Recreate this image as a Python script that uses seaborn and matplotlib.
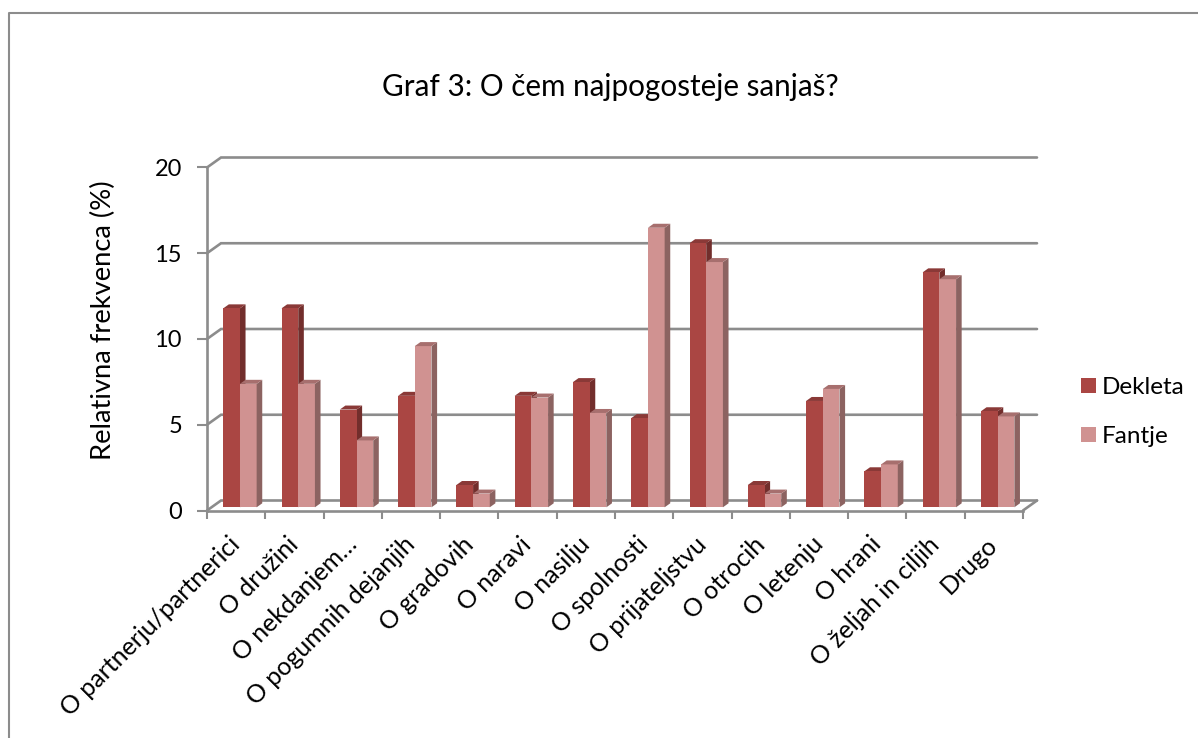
import seaborn as sns
import matplotlib.pyplot as plt
import pandas as pd
from matplotlib.lines import Line2D
from matplotlib.patches import Polygon

categories = ['O partnerju/partnerici', 'O družini', 'O nekdanjem…', 'O pogumnih dejanjih',
              'O gradovih', 'O naravi', 'O nasilju', 'O spolnosti', 'O prijateljstvu',
              'O otrocih', 'O letenju', 'O hrani', 'O željah in ciljih', 'Drugo']
dekleta = [11.6, 11.6, 5.7, 6.5, 1.3, 6.5, 7.3, 5.2, 15.4, 1.3, 6.2, 2.1, 13.7, 5.6]
fantje = [7.2, 7.2, 3.9, 9.4, 0.8, 6.4, 5.5, 16.3, 14.3, 0.8, 6.9, 2.5, 13.3, 5.3]
y_ticks = [0, 5, 10, 15, 20]

W, H = 1198, 738
GREY = '#8C8C8C'

sns.set_style("white")
plt.rcParams['font.family'] = ['Lato', 'DejaVu Sans']
plt.rcParams['text.color'] = 'black'
plt.rcParams['ytick.labelcolor'] = 'black'
plt.rcParams['axes.labelcolor'] = 'black'

df = pd.DataFrame({'cat': categories * 2,
                   'val': dekleta + fantje,
                   'spol': ['Dekleta'] * 14 + ['Fantje'] * 14})

fig = plt.figure(figsize=(W / 100, H / 100), dpi=100)
# axes box = front plane of the fake 3D chart
ax = fig.add_axes([207 / W, 1 - 510.5 / H, 816 / W, 343 / H])

sns.barplot(data=df, x='cat', y='val', hue='spol', order=categories,
            palette={'Dekleta': '#AA4643', 'Fantje': '#D09291'},
            width=0.573, gap=0, dodge=True, saturation=1, errorbar=None,
            linewidth=0, edgecolor='none', ax=ax)
ax.set_xlim(-0.5, 13.5)
ax.set_ylim(0, 20)

# pixel sizes turned into data units
px_x = 14 / 816
px_y = 20 / 343
wall_dx, wall_dy = 14 * px_x, 10 * px_y      # back wall offset
bar_dx, bar_dy = 3.8 * px_x, 3.2 * px_y      # bars stand a bit behind the front
dep_x, dep_y = 5.6 * px_x, 4 * px_y          # bar depth

# back wall grid and floor
for v in y_ticks:
    ax.plot([-0.5, -0.5 + wall_dx, 13.5 + wall_dx], [v, v + wall_dy, v + wall_dy],
            color=GREY, lw=1.9, clip_on=False, zorder=1, solid_joinstyle='miter')
ax.plot([13.5, 13.5 + wall_dx], [0, wall_dy], color=GREY, lw=1.9, clip_on=False, zorder=1)

# extrude the seaborn bars
n = len(categories)
styles = [('#722E2C', '#8A3937', 2.5, 2.6), ('#8C6361', '#A76F6E', 4, 4.1)]
for k, cont in enumerate(ax.containers):
    side_c, top_c, z, z2 = styles[k]
    for bar in cont:
        bar.set_y(bar_dy)
        bar.set_x(bar.get_x() + bar_dx)
        bar.set_zorder(3 if k == 0 else 4)
        bar.set_clip_on(False)
        x0, x1 = bar.get_x(), bar.get_x() + bar.get_width()
        y0, y1 = bar.get_y(), bar.get_y() + bar.get_height()
        ax.add_patch(Polygon([(x1, y0), (x1 + dep_x, y0 + dep_y), (x1 + dep_x, y1 + dep_y), (x1, y1)],
                             closed=True, fc=side_c, ec='none', zorder=z, clip_on=False))
        ax.add_patch(Polygon([(x0, y1), (x0 + dep_x, y1 + dep_y), (x1 + dep_x, y1 + dep_y), (x1, y1)],
                             closed=True, fc=top_c, ec='none', zorder=z2, clip_on=False))

# axes
sns.despine(ax=ax)
for s in ['left', 'bottom']:
    ax.spines[s].set_color(GREY)
    ax.spines[s].set_linewidth(1.9)
ax.set_xticks([i - 0.5 for i in range(n + 1)], minor=False)
ax.set_xticklabels([])
ax.tick_params(axis='x', length=5.5, width=1.5, color=GREY, bottom=True)
ax.set_yticks(y_ticks)
ax.tick_params(axis='y', length=7, width=1.5, color=GREY, left=True, labelsize=17, pad=11)
ax.set_xlabel('')
ax.set_ylabel('Relativna frekvenca (%)', fontsize=19.7)
ax.yaxis.set_label_coords(116 / W, 1 - 320 / H, transform=fig.transFigure)

# category labels rotated around their right end
for i, c in enumerate(categories):
    ax.annotate(c, xy=(i, 0), xycoords='data', xytext=(-8, -22), textcoords='offset pixels',
                rotation=45, ha='right', va='top', rotation_mode='anchor', fontsize=18,
                annotation_clip=False)

ax.legend(loc='center left', bbox_to_anchor=(1081 / W, 1 - 412 / H), bbox_transform=fig.transFigure,
          frameon=False, fontsize=17.5, handlelength=0.62, handleheight=0.62, handletextpad=0.25,
          labelspacing=1.15, borderpad=0, borderaxespad=0, title=None)

fig.text(610 / W, 1 - 87 / H, 'Graf 3: O čem najpogosteje sanjaš?', fontsize=21.3, ha='center', va='center')

# chart frame
fig.add_artist(Line2D([9 / W, 9 / W, 1], [0, 1 - 13 / H, 1 - 13 / H], color=GREY, lw=1.5))

fig.savefig('out.png', dpi=100)
